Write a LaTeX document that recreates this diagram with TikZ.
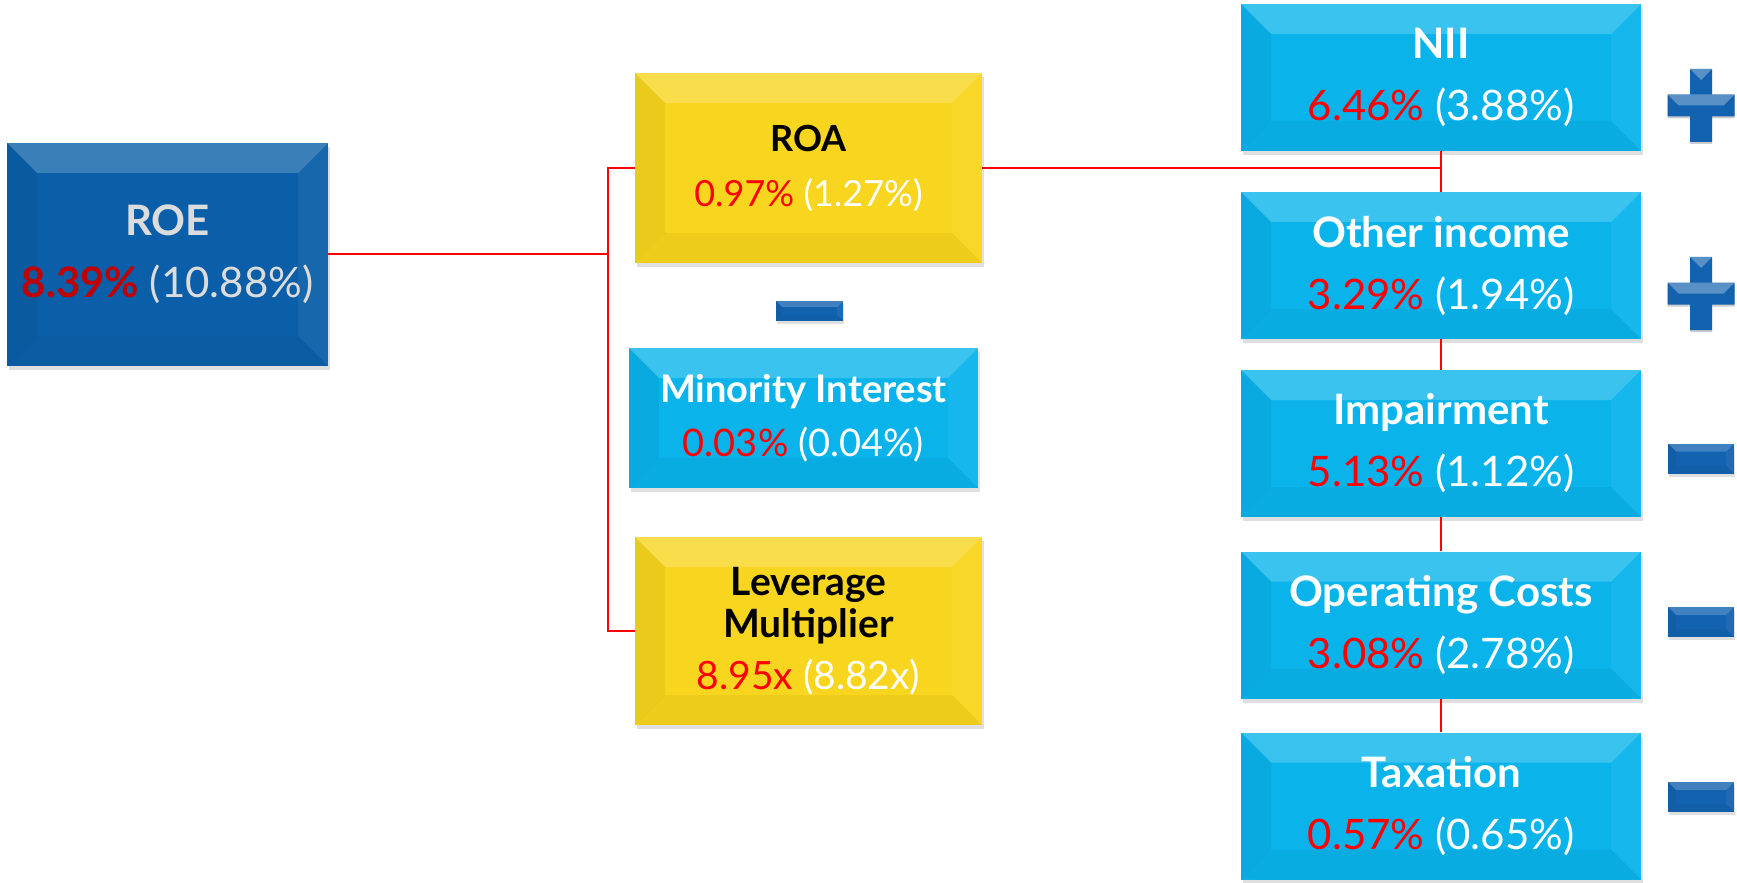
\documentclass[tikz,border=0pt]{standalone}
\usepackage{fontspec}
\setmainfont{Lato}
\usetikzlibrary{shadows}
\definecolor{roeblue}{HTML}{0B5FA8}
\definecolor{roayellow}{HTML}{F8D51E}
\definecolor{itemcyan}{HTML}{0AB4EB}
\definecolor{signblue}{HTML}{1262B0}
\definecolor{valred}{HTML}{FF0000}
\definecolor{roered}{HTML}{C00000}
\definecolor{roegray}{HTML}{DCDCDC}

\newcommand{\val}[2]{\textcolor{valred}{#1} \textcolor{white}{(#2)}}

\tikzset{
  bevel/.style={path picture={
      \fill[white, opacity=0.2] (path picture bounding box.north west) -- (path picture bounding box.north east)
        -- ([shift={(-#1,-#1)}]path picture bounding box.north east) -- ([shift={(#1,-#1)}]path picture bounding box.north west) -- cycle;
      \fill[black, opacity=0.05] (path picture bounding box.north west) -- ([shift={(#1,-#1)}]path picture bounding box.north west)
        -- ([shift={(#1,#1)}]path picture bounding box.south west) -- (path picture bounding box.south west) -- cycle;
      \fill[white, opacity=0.05] (path picture bounding box.north east) -- ([shift={(-#1,-#1)}]path picture bounding box.north east)
        -- ([shift={(-#1,#1)}]path picture bounding box.south east) -- (path picture bounding box.south east) -- cycle;
      \fill[black, opacity=0.04] (path picture bounding box.south west) -- ([shift={(#1,#1)}]path picture bounding box.south west)
        -- ([shift={(-#1,#1)}]path picture bounding box.south east) -- (path picture bounding box.south east) -- cycle;
    }},
  bevel/.default=15pt,
  card/.style={rectangle, inner sep=0pt, align=center, bevel,
               drop shadow={shadow xshift=0.8pt, shadow yshift=-2pt, opacity=0.25}},
  roebox/.style={card, fill=roeblue, minimum width=160.5pt, minimum height=111.5pt,
                 font=\fontsize{21}{31}\selectfont},
  yellowbox/.style={card, fill=roayellow, minimum width=173.5pt,
                    font=\fontsize{18}{27.5}\selectfont},
  cyanbox/.style={card, fill=itemcyan, minimum width=200pt, minimum height=73.5pt,
                  font=\fontsize{21}{31}\selectfont},
  minussign/.style={rectangle, inner sep=0pt, fill=signblue, minimum width=33pt, minimum height=15pt,
                    bevel=4pt, drop shadow={shadow xshift=0.5pt, shadow yshift=-1.5pt, opacity=0.25}},
  link/.style={red, line width=1pt}
}

\begin{document}
\begin{tikzpicture}[x=0.5pt, y=-0.5pt]
  \useasboundingbox (0,0) rectangle (1737,883);

  %% left side
  \node[roebox] (roe) at (167.5,254.5)
    {\textbf{\textcolor{roegray}{ROE}}\\\textbf{\textcolor{roered}{8.39\%}} \textcolor{roegray}{(10.88\%)}};
  \node[yellowbox, minimum height=95pt] (roa) at (808.5,168)
    {\textbf{ROA}\\\val{0.97\%}{1.27\%}};
  \node[minussign, minimum width=33.5pt, minimum height=10pt, bevel=3pt] (minus0) at (809.5,311) {};
  \node[cyanbox, minimum width=174.5pt, minimum height=70pt, font=\fontsize{19}{27}\selectfont] (mino) at (803.5,418)
    {\textbf{\textcolor{white}{Minority Interest}}\\\val{0.03\%}{0.04\%}};
  \node[yellowbox, minimum height=94pt, font=\fontsize{19.5}{21}\selectfont] (lev) at (808.5,631)
    {\textbf{Leverage}\\\textbf{Multiplier}\\[5pt]\val{8.95x}{8.82x}};

  %% right side
  \node[cyanbox] (nii) at (1441,77.5) {\textbf{\textcolor{white}{NII}}\\\val{6.46\%}{3.88\%}};
  \node[cyanbox] (other) at (1441,265.5) {\textbf{\textcolor{white}{Other income}}\\\val{3.29\%}{1.94\%}};
  \node[cyanbox] (imp) at (1441,443.5) {\textbf{\textcolor{white}{Impairment}}\\\val{5.13\%}{1.12\%}};
  \node[cyanbox] (opex) at (1441,625) {\textbf{\textcolor{white}{Operating Costs}}\\\val{3.08\%}{2.78\%}};
  \node[cyanbox] (tax) at (1441,806) {\textbf{\textcolor{white}{Taxation}}\\\val{0.57\%}{0.65\%}};

  %% signs
  \foreach \y/\nm in {105.5/plusA, 293.5/plusB}{
    \begin{scope}[shift={(1701,\y)}]
      \fill[black, opacity=0.2] (-33.5,-9) -- (-11,-9) -- (-11,-34.5) -- (11,-34.5) -- (11,-9) -- (33.5,-9)
        -- (33.5,13) -- (11,13) -- (11,38.5) -- (-11,38.5) -- (-11,13) -- (-33.5,13) -- cycle;
      \fill[signblue] (-33.5,-11) -- (-11,-11) -- (-11,-36.5) -- (11,-36.5) -- (11,-11) -- (33.5,-11)
        -- (33.5,11) -- (11,11) -- (11,36.5) -- (-11,36.5) -- (-11,11) -- (-33.5,11) -- cycle;
      \fill[white, opacity=0.3] (-11,-36.5) -- (11,-36.5) -- (0,-25.5) -- cycle;
      \fill[white, opacity=0.3] (-33.5,-11) -- (33.5,-11) -- (22.5,0) -- (-22.5,0) -- cycle;
      \coordinate (\nm) at (0,0);
    \end{scope}
  }
  \foreach \y/\nm in {458.5/minusA, 622/minusB, 797/minusC}
    \node[minussign] (\nm) at (1701,\y) {};

  %% connectors
  \coordinate (fork) at (608,254.5);
  \draw[link] (roe.east) -- (fork);
  \draw[link] (roa.west) -| (fork) |- (lev.west);
  \draw[link] (roa.east) -- (roa.east -| nii.south);
  \draw[link] (nii.south) -- (other.north);
  \draw[link] (other.south) -- (imp.north);
  \draw[link] (imp.south) -- (opex.north);
  \draw[link] (opex.south) -- (tax.north);
\end{tikzpicture}
\end{document}
